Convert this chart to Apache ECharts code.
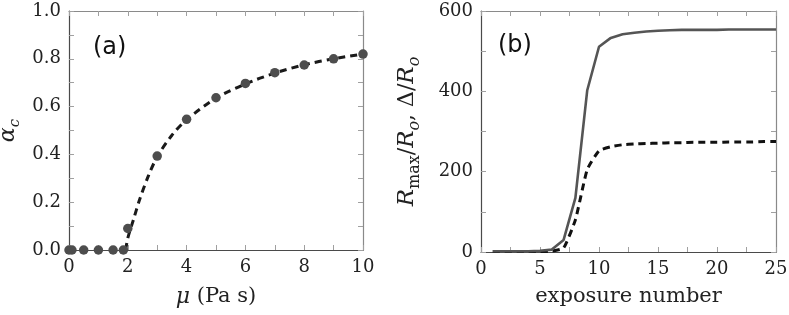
<!DOCTYPE html>
<html><head><meta charset="utf-8">
<script src="https://cdn.jsdelivr.net/npm/echarts@6/dist/echarts.min.js"></script>
<style>html,body{margin:0;padding:0;background:#fff}#c{width:789px;height:315px}</style>
</head><body><div id="c"></div>
<script>
// Panel (a): measured points
const muPoints = [0, 0.1, 0.5, 1, 1.5, 1.85, 2, 3, 4, 5, 6, 7, 8, 9, 10];
const alphaPoints = [0, 0, 0, 0, 0, 0, 0.09, 0.393, 0.547, 0.637, 0.697, 0.742, 0.774, 0.80, 0.82];
// Panel (a): dashed fit curve
const muFit = [1.93, 2.0, 2.2, 2.4, 2.7, 3, 3.5, 4, 5, 6, 7, 8, 9, 10];
const alphaFit = [0, 0.05, 0.13, 0.21, 0.31, 0.39, 0.48, 0.545, 0.635, 0.695, 0.74, 0.775, 0.80, 0.82];
// Panel (b)
const exposure = [1,2,3,4,5,6,7,8,9,10,11,12,13,14,15,16,17,18,19,20,21,22,23,24,25];
const rmax = [2,2,2,2,3,6,30,135,402,511,533,542,546,549,551,552,553,553,553,553,554,554,554,554,554];
const delta = [1,1,1,1,1,2,10,80,205,252,262,267,269,270,271,272,272,273,273,273,274,274,274,275,275];
const ticksA_x = [0,2,4,6,8,10];
const ticksA_y = [0.0,0.2,0.4,0.6,0.8,1.0];
const ticksB_x = [0,5,10,15,20,25];
const ticksB_y = [0,200,400,600];

const serif = 'DejaVu Serif';
const tickFont = {fontFamily: serif, fontSize: 18, color: '#222'};
const axisDark = '#4a4a4a', axisLight = '#8a8a8a', tickCol = '#a0a0a0';

function mainAxis(opts, labelFmt, gridIndex) {
  return Object.assign({
    type: 'value', gridIndex,
    axisLine: {show: true, lineStyle: {color: axisDark, width: 1.2}},
    axisTick: {show: true, inside: true, length: 5, lineStyle: {color: tickCol}},
    axisLabel: Object.assign({formatter: labelFmt, margin: 8}, tickFont),
    splitLine: {show: false}
  }, opts);
}
function frameAxis(opts, gridIndex) {
  return Object.assign({
    type: 'value', gridIndex,
    axisLine: {show: true, onZero: false, lineStyle: {color: axisLight, width: 1.2}},
    axisTick: {show: true, inside: true, length: 5, lineStyle: {color: tickCol}},
    axisLabel: {show: false},
    splitLine: {show: false}
  }, opts);
}
const fmtIn = (list, dec) => v => {
  const hit = list.find(t => Math.abs(t - v) < 1e-6);
  return hit === undefined ? '' : hit.toFixed(dec);
};

function rich(big, small) {
  return {
    i: {fontFamily: serif, fontStyle: 'italic', fontSize: big, lineHeight: big + 8, color: '#222'},
    r: {fontFamily: serif, fontSize: big - 1, lineHeight: big + 8, color: '#222'},
    s: {fontFamily: serif, fontSize: small, lineHeight: small, verticalAlign: 'bottom', color: '#222'},
    si: {fontFamily: serif, fontStyle: 'italic', fontSize: small, lineHeight: small, verticalAlign: 'bottom', color: '#222'}
  };
}

const option = {
  animation: false,
  grid: [
    {left: 69, right: 426, top: 11, bottom: 65, outerBoundsMode: 'none', containLabel: false},
    {left: 481, right: 13, top: 11, bottom: 63, outerBoundsMode: 'none', containLabel: false}
  ],
  xAxis: [
    mainAxis({min: 0, max: 10, interval: 1, name: '{i|μ}  {r|(Pa s)}', nameLocation: 'middle', nameGap: 32,
      nameTextStyle: {rich: rich(22, 15)}}, fmtIn(ticksA_x, 0), 0),
    mainAxis({min: 0, max: 25, interval: 2.5, name: 'exposure number', nameLocation: 'middle', nameGap: 34,
      nameTextStyle: {fontFamily: serif, fontSize: 21, color: '#222'}}, fmtIn(ticksB_x, 0), 1),
    frameAxis({min: 0, max: 10, interval: 1, position: 'top'}, 0),
    frameAxis({min: 0, max: 25, interval: 2.5, position: 'top'}, 1)
  ],
  yAxis: [
    mainAxis({min: 0, max: 1, interval: 0.1, name: '{i|α}{si|c}', nameLocation: 'middle', nameGap: 46,
      nameTextStyle: {rich: rich(22, 15)}}, fmtIn(ticksA_y, 1), 0),
    mainAxis({min: 0, max: 600, interval: 100,
      name: '{i|R}{s|max}{r|/}{i|R}{si|o}{r|, Δ/}{i|R}{si|o}', nameLocation: 'middle', nameGap: 58,
      nameTextStyle: {rich: rich(23, 16), padding: [0, 0, 0, 0]}}, fmtIn(ticksB_y, 0), 1),
    frameAxis({min: 0, max: 1, interval: 0.1, position: 'right'}, 0),
    frameAxis({min: 0, max: 600, interval: 100, position: 'right'}, 1)
  ],
  graphic: [
    {type: 'text', left: 93, top: 36, style: {text: '(a)', font: '24px "DejaVu Sans"', fill: '#111'}},
    {type: 'text', left: 498, top: 34, style: {text: '(b)', font: '24px "DejaVu Sans"', fill: '#111'}}
  ],
  series: [
    {type: 'line', xAxisIndex: 0, yAxisIndex: 0, data: muFit.map((x, k) => [x, alphaFit[k]]),
      showSymbol: false, smooth: 0.3, lineStyle: {color: '#1a1a1a', width: 3, type: [7, 5]}, z: 2},
    {type: 'scatter', xAxisIndex: 0, yAxisIndex: 0, data: muPoints.map((x, k) => [x, alphaPoints[k]]),
      symbolSize: 9.5, itemStyle: {color: '#4d4d4d', opacity: 1}, z: 3},
    {type: 'line', xAxisIndex: 1, yAxisIndex: 1, data: exposure.map((x, k) => [x, rmax[k]]),
      showSymbol: false, lineStyle: {color: '#555', width: 2.6}, z: 3},
    {type: 'line', xAxisIndex: 1, yAxisIndex: 1, data: exposure.map((x, k) => [x, delta[k]]),
      showSymbol: false, smooth: 0.15, lineStyle: {color: '#111', width: 3, type: [7, 5]}, z: 2}
  ]
};
const chart = echarts.init(document.getElementById('c'), null, {renderer: 'canvas'});
chart.setOption(option);
</script></body></html>
